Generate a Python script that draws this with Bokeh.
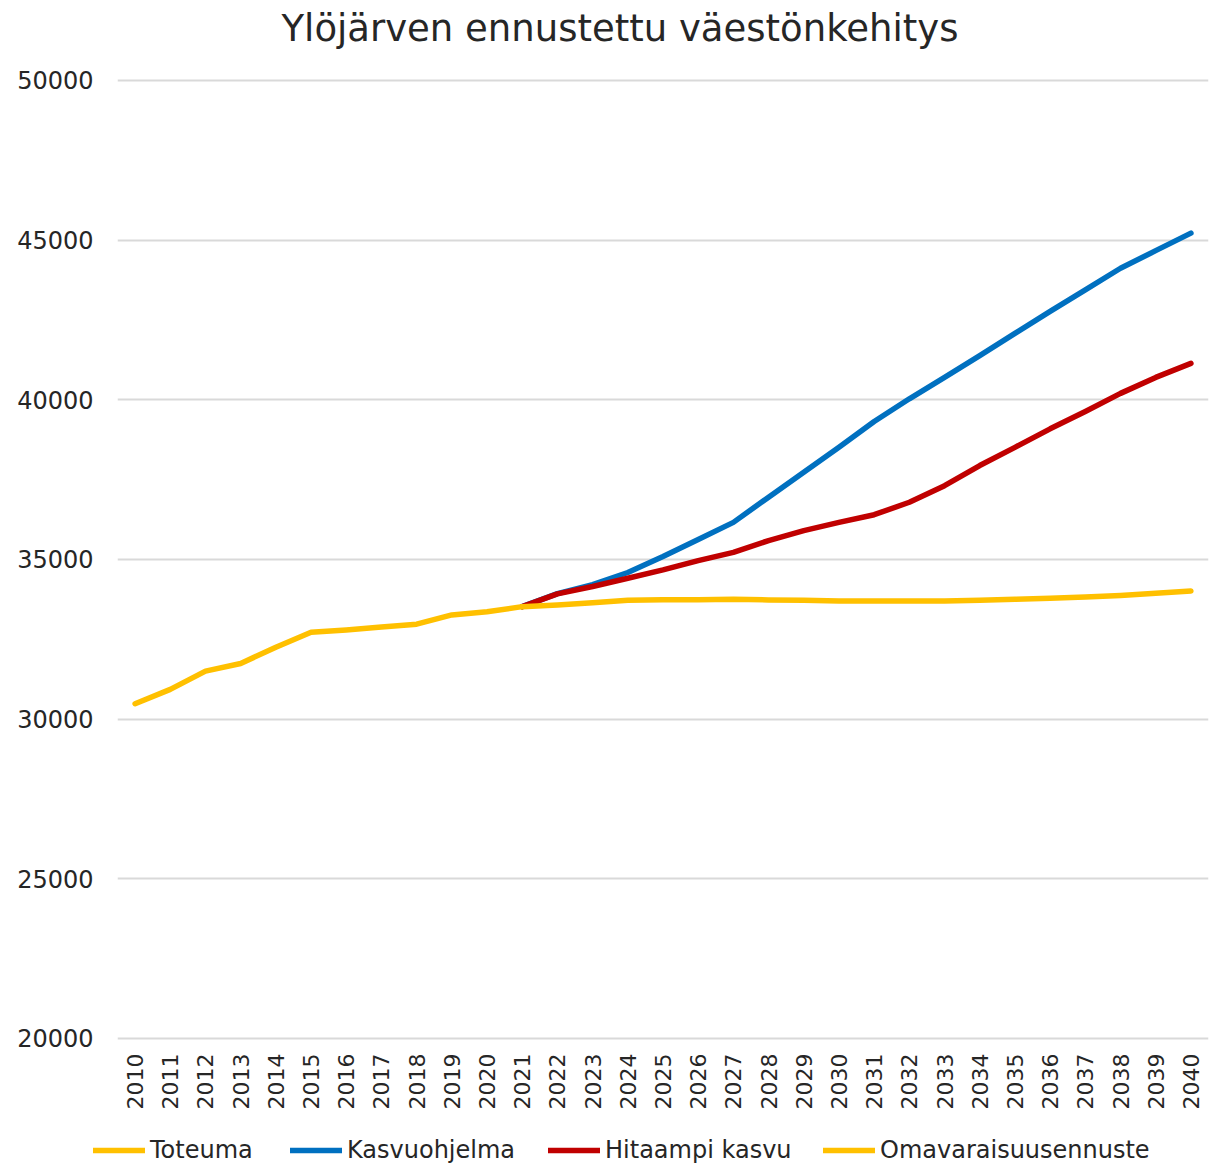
from bokeh.plotting import figure
from bokeh.models import Range1d, FactorRange, Legend, LegendItem, FixedTicker
from bokeh.layouts import column, row
from bokeh.embed import file_html
from bokeh.resources import INLINE
import math

years = [str(y) for y in range(2010, 2041)]

toteuma_years = [str(y) for y in range(2010, 2022)]
toteuma = [30480, 30930, 31500, 31740, 32250, 32720, 32790, 32880, 32970, 33260, 33360, 33520]

proj_years = [str(y) for y in range(2021, 2041)]
kasvuohjelma = [33520, 33930, 34210, 34590, 35090, 35620, 36160, 36950, 37730, 38510,
                39320, 40030, 40700, 41380, 42080, 42770, 43440, 44120, 44670, 45220]
hitaampi_kasvu = [33520, 33920, 34150, 34410, 34670, 34960, 35220, 35590, 35900, 36160,
                  36400, 36790, 37310, 37940, 38510, 39090, 39630, 40200, 40700, 41140]
omavaraisuus = [33520, 33570, 33640, 33720, 33735, 33740, 33750, 33730, 33720, 33700,
                33700, 33700, 33700, 33720, 33750, 33780, 33820, 33870, 33940, 34010]

y_ticks = [20000, 25000, 30000, 35000, 40000, 45000, 50000]

series_labels = ["Toteuma", "Kasvuohjelma", "Hitaampi kasvu", "Omavaraisuusennuste"]
series_colors = ["#FFC000", "#0070C0", "#C00000", "#FFC000"]

FONT = "DejaVu Sans"
TXT = "#262626"
LW = 5.5

p = figure(width=1213, height=1130, output_backend="svg", toolbar_location=None,
           x_range=FactorRange(*years, range_padding=0),
           y_range=Range1d(19900, 50814),
           title="Ylöjärven ennustettu väestönkehitys",
           min_border_left=117, min_border_right=5, min_border_top=0, min_border_bottom=89)

p.title.align = "left"
p.title.offset = 164
p.title.standoff = 9
p.title.text_font = FONT
p.title.text_font_size = "37px"
p.title.text_font_style = "normal"
p.title.text_color = TXT

p.outline_line_color = None
p.xgrid.grid_line_color = None
p.ygrid.grid_line_color = "#d9d9d9"
p.ygrid.grid_line_width = 2

p.yaxis.ticker = FixedTicker(ticks=y_ticks)
p.yaxis.axis_line_color = None
p.yaxis.major_tick_line_color = None
p.yaxis.minor_tick_line_color = None
p.yaxis.major_label_text_font = FONT
p.yaxis.major_label_text_font_size = "24px"
p.yaxis.major_label_text_color = TXT
p.yaxis.major_label_standoff = 18

p.xaxis.axis_line_color = None
p.xaxis.major_tick_line_color = None
p.xaxis.major_label_orientation = math.pi / 2
p.xaxis.major_label_text_font = FONT
p.xaxis.major_label_text_font_size = "22px"
p.xaxis.major_label_text_color = TXT
p.xaxis.major_label_standoff = 6

line_kw = dict(line_width=LW, line_cap="round", line_join="round")
p.line(proj_years, kasvuohjelma, line_color=series_colors[1], **line_kw)
p.line(proj_years, hitaampi_kasvu, line_color=series_colors[2], **line_kw)
p.line(proj_years, omavaraisuus, line_color=series_colors[3], **line_kw)
p.line(toteuma_years, toteuma, line_color=series_colors[0], **line_kw)

# Legend strip below the chart (series drawn out of its visible range, only the legend shows)
lp = figure(width=1213, height=36, output_backend="svg", toolbar_location=None,
            x_range=p.x_range, y_range=Range1d(0, 1),
            x_axis_type=None, y_axis_type=None,
            min_border_left=0, min_border_right=0, min_border_top=0, min_border_bottom=0)
lp.grid.visible = False
lp.outline_line_color = None

series = [(toteuma_years, toteuma), (proj_years, kasvuohjelma),
          (proj_years, hitaampi_kasvu), (proj_years, omavaraisuus)]
xs = [93, 290, 548, 823]
for lab, col, (sx, sy), x in zip(series_labels, series_colors, series, xs):
    r = lp.line(sx, sy, line_color=col, **line_kw)
    lg = Legend(items=[LegendItem(label=lab, renderers=[r])], location=(x, 2),
                orientation="horizontal", padding=0, margin=0, spacing=0,
                glyph_width=52, glyph_height=24, label_height=24, label_standoff=5,
                label_text_font=FONT, label_text_font_size="24px", label_text_color=TXT,
                border_line_color=None, background_fill_alpha=0)
    lp.add_layout(lg, "center")

open("out.html", "w").write(file_html(column(p, row(lp)), INLINE))
